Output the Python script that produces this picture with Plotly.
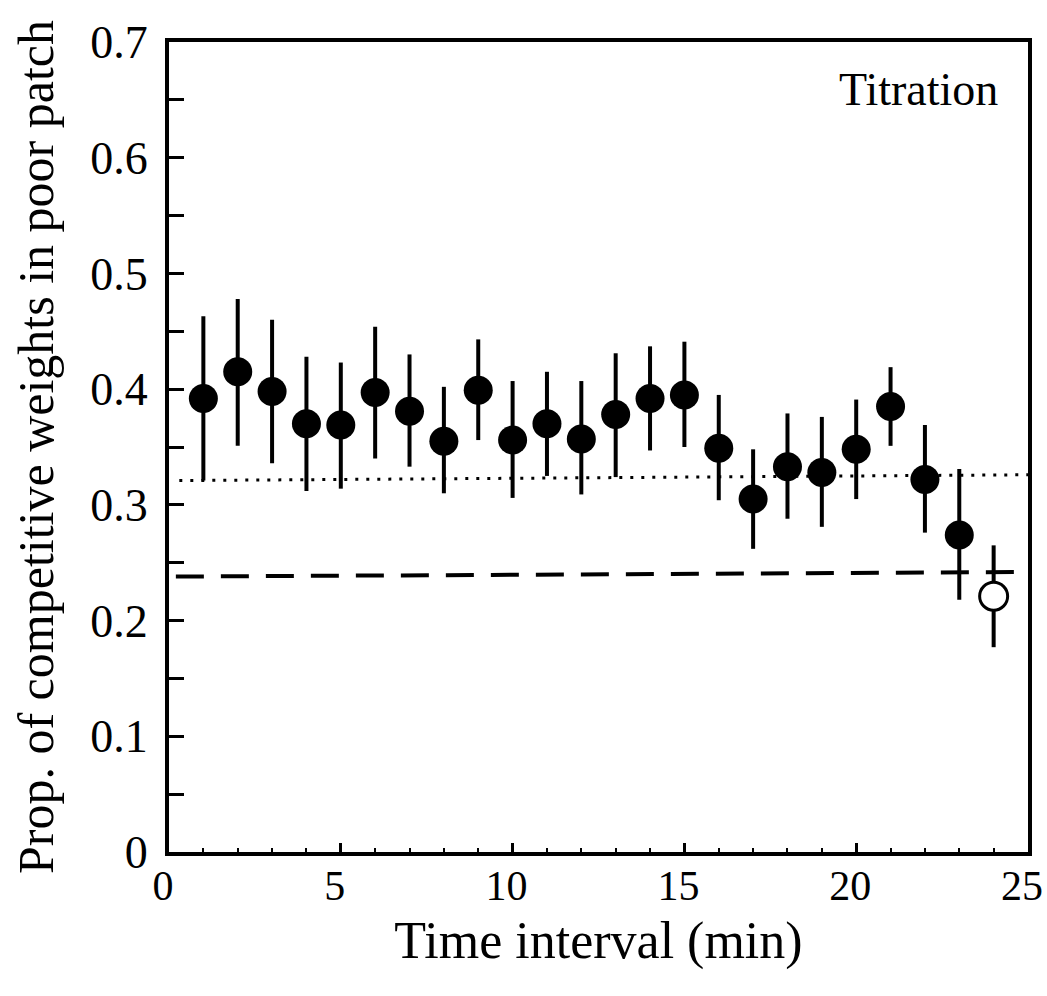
import plotly.graph_objects as go

# Data
time_interval = list(range(1, 24))
prop_mean = [0.392, 0.415, 0.398, 0.370, 0.369, 0.397, 0.381, 0.355, 0.399, 0.356,
             0.370, 0.357, 0.378, 0.392, 0.395, 0.349, 0.305, 0.333, 0.328, 0.348,
             0.385, 0.322, 0.274]
prop_upper = [0.463, 0.478, 0.460, 0.428, 0.423, 0.454, 0.430, 0.402, 0.443, 0.407,
              0.415, 0.407, 0.431, 0.437, 0.441, 0.395, 0.348, 0.379, 0.376, 0.391,
              0.419, 0.369, 0.331]
prop_lower = [0.321, 0.351, 0.336, 0.312, 0.314, 0.340, 0.333, 0.310, 0.356, 0.306,
              0.325, 0.309, 0.324, 0.347, 0.350, 0.304, 0.262, 0.288, 0.281, 0.305,
              0.351, 0.276, 0.218]

open_x = [24]
open_mean = [0.221]
open_upper = [0.265]
open_lower = [0.177]

dotted_x = [0.3, 25]
dotted_y = [0.321, 0.326]
dashed_x = [0.2, 25]
dashed_y = [0.238, 0.242]

x_ticks = [0, 5, 10, 15, 20, 25]
y_ticks = [0, 0.1, 0.2, 0.3, 0.4, 0.5, 0.6, 0.7]
y_tick_text = ["0", "0.1", "0.2", "0.3", "0.4", "0.5", "0.6", "0.7"]

SERIF = "Liberation Serif, Times New Roman, serif"

fig = go.Figure()

fig.add_trace(go.Scatter(x=dotted_x, y=dotted_y, mode="lines",
                         line=dict(color="black", width=3, dash="3px,8px"),
                         showlegend=False, hoverinfo="skip"))
fig.add_trace(go.Scatter(x=dashed_x, y=dashed_y, mode="lines",
                         line=dict(color="black", width=4, dash="28px,17px"),
                         showlegend=False, hoverinfo="skip"))

fig.add_trace(go.Scatter(
    x=time_interval, y=prop_mean, mode="markers",
    marker=dict(size=29, color="black", line=dict(width=0)),
    error_y=dict(type="data", symmetric=False,
                 array=[u - m for u, m in zip(prop_upper, prop_mean)],
                 arrayminus=[m - l for m, l in zip(prop_mean, prop_lower)],
                 color="black", thickness=4, width=0),
    showlegend=False))

fig.add_trace(go.Scatter(
    x=open_x, y=open_mean, mode="markers",
    marker=dict(size=28, color="white", line=dict(width=3, color="black")),
    error_y=dict(type="data", symmetric=False,
                 array=[u - m for u, m in zip(open_upper, open_mean)],
                 arrayminus=[m - l for m, l in zip(open_mean, open_lower)],
                 color="black", thickness=4, width=0),
    showlegend=False))

fig.update_layout(
    width=1047, height=996,
    margin=dict(l=169, r=19, t=42, b=144),
    paper_bgcolor="white", plot_bgcolor="white",
    font=dict(family=SERIF, color="black"),
    xaxis=dict(range=[0, 25], tickvals=x_ticks, ticks="inside", ticklen=9, tickwidth=3,
               tickcolor="black", automargin=False,
               minor=dict(dtick=1, ticks="inside", ticklen=4, tickwidth=2, tickcolor="black"),
               showline=True, linewidth=4, linecolor="black", mirror=True,
               showgrid=False, zeroline=False,
               tickfont=dict(family=SERIF, size=42), ticklabelshift=-6,
               ticklabelstandoff=-6,
               title=dict(text="Time interval (min)", font=dict(family=SERIF, size=52), standoff=14)),
    yaxis=dict(range=[0, 0.7], tickvals=y_ticks, ticktext=y_tick_text,
               ticks="inside", ticklen=15, tickwidth=3, tickcolor="black", automargin=False,
               minor=dict(dtick=0.05, ticks="inside", ticklen=15, tickwidth=3, tickcolor="black"),
               showline=True, linewidth=4, linecolor="black", mirror=True,
               showgrid=False, zeroline=False,
               tickfont=dict(family=SERIF, size=46), ticklabelstandoff=8,
               title=dict(text="Prop. of competitive weights in poor patch",
                          font=dict(family=SERIF, size=50), standoff=22)),
    annotations=[dict(text="Titration", x=0.967, y=0.975, xref="paper", yref="paper",
                      xanchor="right", yanchor="top", showarrow=False,
                      font=dict(family=SERIF, size=46))],
)

fig.write_html("out.html")
